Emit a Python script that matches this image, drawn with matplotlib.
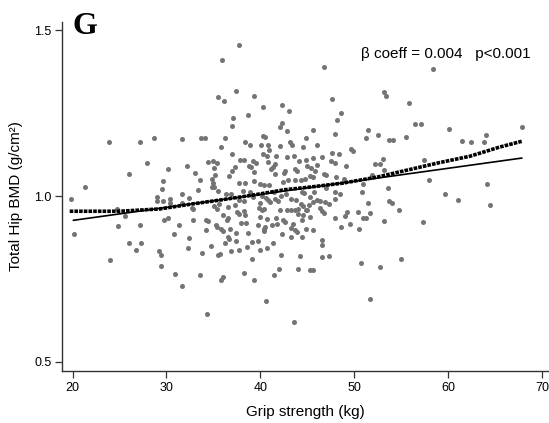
import matplotlib
matplotlib.use("Agg")
import matplotlib.pyplot as plt
import numpy as np

# grip strength (kg) vs total hip BMD (g/cm2)
grip = [
    37.7, 35.9, 37.4, 35.5, 36.1, 39.3, 40.3, 42.3, 43.0, 37.1, 38.7, 37.0, 42.3, 42.1, 42.8, 45.6,
    46.8, 58.4, 53.2, 53.4, 47.6, 55.8, 48.6, 48.2, 47.9, 51.4, 52.5, 56.4, 57.1,
    60.1, 67.8, 64.0,
    23.9, 27.2, 28.7, 31.6, 27.9, 30.2, 32.2, 26.0, 29.6, 21.3, 29.5, 31.6, 32.4, 19.8, 29.0, 29.0,
    29.6, 30.4, 30.4, 31.6, 24.7, 25.6, 30.2, 29.7, 24.8, 27.2, 31.3, 20.2, 30.8,
    26.0, 27.3, 26.8, 29.2, 29.4, 32.3, 32.4, 24.0, 29.4, 30.9, 31.7,
    36.0, 36.5, 36.6, 36.2, 37.4, 38.7, 40.4, 39.1, 39.7, 41.3, 43.2, 44.4, 34.7, 33.8, 35.5, 35.7,
    36.9, 37.7, 38.6, 40.7, 39.9, 39.1, 42.2, 44.2, 33.6, 36.0, 35.8, 38.2, 39.3, 41.4, 42.0, 44.0,
    45.3, 45.6, 40.6, 34.3, 43.6,
    46.5, 46.5, 46.5, 47.3, 50.7, 52.7, 55.0, 51.7,
    61.4, 62.4, 63.8, 64.1, 59.6, 61.0, 64.4,
    46.0, 51.2, 53.7, 54.1, 55.5, 49.6, 49.9, 47.6, 48.4, 46.5, 47.5, 47.9, 49.1, 46.0, 45.8, 46.8,
    47.0, 48.0, 48.9, 52.2, 52.7, 53.0, 53.2, 57.4, 51.9, 57.9, 50.9, 47.0, 47.9, 48.5, 45.7, 45.3,
    50.8, 53.6, 47.9, 46.0, 46.3, 46.9, 47.3, 46.3, 46.6, 46.8, 51.4, 53.7, 54.0, 49.2, 49.0, 50.4,
    51.7, 54.7, 47.9, 50.9, 51.2, 49.5, 48.6, 53.1, 57.3, 50.5,
    33.7, 34.1, 36.2, 40.3, 40.5, 44.8, 38.4, 38.9, 40.1, 40.8, 40.9, 43.1, 43.4, 42.1, 35.8, 44.5,
    37.0, 40.3, 40.7, 41.7, 42.8, 43.6, 37.8, 38.2, 34.4, 35.0, 35.4, 39.5, 39.2, 40.8, 44.1, 44.9,
    45.6, 35.1, 37.3, 37.0, 38.8, 39.0, 41.6, 41.3, 41.1, 42.6, 42.5, 43.7, 43.9, 45.0, 45.4, 33.0,
    35.2, 34.8, 36.6, 39.3, 41.5, 33.6, 37.7, 38.4, 34.9, 34.8, 39.3, 40.0, 40.4, 40.9, 42.9, 42.4,
    43.7, 44.3, 44.7, 45.3, 45.6, 33.4, 35.1, 35.5, 36.3, 38.1, 38.9, 36.9, 39.2, 41.4, 42.7, 42.2,
    44.4, 44.6, 37.7, 38.3, 40.2, 40.6, 40.8, 41.0, 41.5, 41.9, 43.2, 43.8, 44.3, 44.5, 44.8, 45.2,
    45.6, 35.1, 35.6, 35.4, 36.5, 37.3, 37.5, 37.7, 38.2, 32.7, 32.8, 39.9, 39.8, 40.2, 40.4, 42.1,
    42.8, 43.3, 43.7, 44.0, 45.0, 45.3, 36.0, 38.4, 39.9, 40.7, 41.7, 42.4, 44.0, 44.5, 44.4, 32.8,
    34.2, 34.4, 36.5, 36.4, 37.9, 38.5, 39.7, 40.5, 40.4, 41.8, 41.2, 42.6, 43.5, 35.3, 35.4, 35.8,
    36.8, 34.2, 37.4, 43.2, 43.7, 43.9, 44.8, 45.6, 42.3,
]
bmd = [
    1.456, 1.410, 1.316, 1.299, 1.288, 1.303, 1.270, 1.276, 1.256, 1.236, 1.243, 1.212, 1.221, 1.208, 1.197, 1.200,
    1.389, 1.384, 1.313, 1.303, 1.293, 1.280, 1.250, 1.230, 1.188, 1.198, 1.185, 1.218, 1.217,
    1.201, 1.208, 1.183,
    1.164, 1.164, 1.174, 1.172, 1.099, 1.081, 1.092, 1.066, 1.045, 1.026, 1.020, 1.006, 0.995, 0.992, 0.997, 0.984,
    0.984, 0.992, 0.979, 0.979, 0.961, 0.940, 0.935, 0.927, 0.908, 0.912, 0.911, 0.885, 0.886,
    0.859, 0.857, 0.836, 0.834, 0.821, 0.842, 0.874, 0.808, 0.788, 0.766, 0.729,
    0.895, 0.875, 0.869, 0.859, 0.863, 0.888, 0.894, 0.861, 0.863, 0.857, 0.875, 0.877, 0.849, 0.828, 0.821, 0.824,
    0.833, 0.836, 0.846, 0.842, 0.836, 0.810, 0.822, 0.818, 0.763, 0.756, 0.748, 0.769, 0.747, 0.763, 0.781, 0.780,
    0.776, 0.777, 0.684, 0.645, 0.621,
    0.868, 0.852, 0.816, 0.819, 0.797, 0.786, 0.811, 0.690,
    1.167, 1.162, 1.164, 1.035, 1.007, 0.989, 0.974,
    1.155, 1.176, 1.168, 1.169, 1.178, 1.142, 1.135, 1.130, 1.127, 1.118, 1.105, 1.101, 1.090, 1.095, 1.075, 1.067,
    1.063, 1.056, 1.052, 1.096, 1.096, 1.111, 1.077, 1.108, 1.062, 1.048, 1.037, 1.025, 1.011, 1.006, 1.012, 0.997,
    1.011, 1.025, 0.992, 0.987, 0.985, 0.982, 0.975, 0.964, 0.954, 0.949, 0.978, 0.985, 0.978, 0.952, 0.940, 0.951,
    0.948, 0.957, 0.933, 0.935, 0.933, 0.915, 0.906, 0.924, 0.922, 0.899,
    1.176, 1.176, 1.174, 1.182, 1.179, 1.176, 1.162, 1.155, 1.154, 1.153, 1.140, 1.164, 1.154, 1.152, 1.147, 1.148,
    1.127, 1.126, 1.121, 1.121, 1.119, 1.120, 1.108, 1.108, 1.102, 1.105, 1.101, 1.099, 1.105, 1.102, 1.105, 1.108,
    1.114, 1.083, 1.087, 1.074, 1.090, 1.089, 1.096, 1.089, 1.080, 1.075, 1.069, 1.080, 1.074, 1.092, 1.084, 1.069,
    1.062, 1.051, 1.060, 1.071, 1.065, 1.049, 1.040, 1.039, 1.040, 1.027, 1.045, 1.035, 1.033, 1.032, 1.049, 1.042,
    1.047, 1.049, 1.050, 1.059, 1.056, 1.019, 1.027, 1.015, 1.006, 1.015, 1.012, 1.005, 0.996, 1.012, 1.007, 1.000,
    1.013, 1.010, 0.987, 0.984, 1.000, 0.994, 0.987, 0.983, 0.990, 0.984, 0.990, 0.988, 0.975, 0.971, 0.957, 0.972,
    0.982, 0.970, 0.977, 0.961, 0.966, 0.973, 0.952, 0.946, 0.955, 0.964, 0.961, 0.980, 0.964, 0.957, 0.961, 0.959,
    0.957, 0.959, 0.957, 0.961, 0.958, 0.936, 0.944, 0.943, 0.937, 0.931, 0.934, 0.929, 0.947, 0.942, 0.929, 0.929,
    0.927, 0.924, 0.935, 0.927, 0.920, 0.919, 0.914, 0.907, 0.899, 0.915, 0.914, 0.921, 0.916, 0.912, 0.907, 0.901,
    0.900, 0.898, 0.889, 0.902, 0.897, 0.890, 0.900, 0.897, 0.886,
]

# lowess curve (thick dotted)
lowess_x = [19.7, 25.0, 29.3, 32.5, 35.5, 39.05, 42.6, 45.3, 48.8, 52.4, 55.9, 59.1, 62.3, 65.5, 67.8]
lowess_y = [0.954, 0.954, 0.961, 0.975, 0.987, 1.002, 1.019, 1.027, 1.039, 1.057, 1.080, 1.101, 1.120, 1.148, 1.165]

# linear fit
fit_x = [20.1, 67.8]
fit_b0 = 0.8476
fit_b1 = 0.003935

plt.rcParams['font.family'] = ['Liberation Sans', 'DejaVu Sans']

fig = plt.figure(figsize=(5.49, 4.23), dpi=100)
ax = fig.add_axes([0.1138, 0.1234, 0.8862, 0.8246])

ax.scatter(grip, bmd, s=13, color='#747474', linewidths=0, zorder=2)
ax.plot(lowess_x, lowess_y, color='black', lw=2.6, linestyle=(0, (1.0, 0.3)), zorder=3)
fx = np.array(fit_x)
ax.plot(fx, fit_b0 + fit_b1 * fx, color='black', lw=1.2, zorder=3)

ax.set_xlim(18.93, 70.71)
ax.set_ylim(0.4726, 1.525)
ax.set_xticks([20, 30, 40, 50, 60, 70])
ax.set_yticks([0.5, 1.0, 1.5])
ax.set_yticklabels(['0.5', '1.0', '1.5'])
for s in ['top', 'right']:
    ax.spines[s].set_visible(False)
for s in ['left', 'bottom']:
    ax.spines[s].set_color('#333333')
    ax.spines[s].set_linewidth(1.0)
ax.tick_params(length=5, width=0.9, color='#333333', labelsize=9, pad=3)

ax.set_xlabel('Grip strength (kg)', fontsize=11, labelpad=8)
ax.set_ylabel('Total Hip BMD (g/cm²)', fontsize=11, labelpad=8)

ax.text(85 / 549, 1 - 26 / 423, 'G', transform=fig.transFigure,
        family='Liberation Serif', fontweight='bold', fontsize=23, ha='center', va='center')
ax.text(360.7 / 549, 1 - 54 / 423, 'β coeff = 0.004   p<0.001', transform=fig.transFigure,
        fontsize=11, ha='left', va='center')

fig.savefig('out.png', dpi=100)
